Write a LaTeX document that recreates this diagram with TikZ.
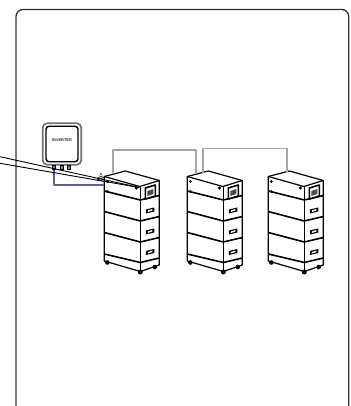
\documentclass[tikz,border=0pt]{standalone}
\usepackage{xcolor}
\usepackage{fontspec}
\setsansfont{Liberation Sans}
\usepackage{tikz}
\usetikzlibrary{positioning}
\definecolor{wiregray}{RGB}{165,165,165}
\definecolor{wirepurple}{RGB}{98,88,170}
\definecolor{framegray}{RGB}{50,50,50}

\begin{document}
\begin{tikzpicture}[
    x=1pt, y=-1pt,
    line join=round,
    inverterbox/.style={
        rectangle, rounded corners=4.5pt, draw=black!55, line width=1.7pt,
        minimum width=38.5pt, minimum height=41.5pt, inner sep=0pt
    },
    innerbox/.style={
        rectangle, rounded corners=3pt, draw=black, line width=1.4pt,
        minimum width=32pt, minimum height=35.5pt, inner sep=0pt
    },
    portbox/.style={
        rectangle, draw=black, fill=black!50, line width=0.9pt,
        minimum width=3pt, minimum height=4pt, inner sep=0pt
    },
    batteryline/.style={draw=black, line width=1.2pt},
    stackline/.style={draw=black, line width=1.6pt},
    gray wire/.style={draw=wiregray, line width=1.9pt},
    battery/.pic={
        % casing
        \draw[batteryline, fill=white] (0,0) -- (21,-5.5) -- (55,4) -- (55,88.5) -- (36,95) -- (0,84.5) -- cycle;
        \draw[batteryline] (0,0) -- (35.5,10) -- (55,4);
        \draw[stackline] (36,10) -- (36,95);
        \draw[stackline] (0,0) -- (0,84.5);
        % stacked modules
        \draw[stackline] (0,14.5) -- (36,23.5) -- (55,19);
        \draw[stackline] (0,35) -- (36,44.5) -- (55,40);
        \draw[stackline] (0,56) -- (36,65.5) -- (55,61);
        \draw[stackline] (0,77.5) -- (36,86) -- (55,81.5);
        % screen and handles
        \draw[black, line width=1.6pt, fill=white] (41,11.5) -- (51,8.5) -- (51,19.5) -- (41,22.5) -- cycle;
        \fill[black!70] (43,14.5) -- (49,12.5) -- (49,17.5) -- (43,19.5) -- cycle;
        \foreach \handley in {33,54,74.5} {
            \fill[black] (41.5,\handley) -- (50,\handley-2) -- (50,\handley+2) -- (41.5,\handley+4) -- cycle;
            \fill[white] (43.5,\handley+1) -- (48,\handley-0.5) -- (48,\handley+1) -- (43.5,\handley+2.5) -- cycle;
        }
        % feet and screws
        \fill (3,86) circle (2.3pt);
        \fill (36,95.5) circle (2.5pt);
        \fill (50.5,90.5) circle (2.3pt);
        \fill (3,5) circle (1.5pt);
        \fill (32,11.5) circle (1.8pt);
        \fill (3,15) circle (1.5pt);
        % ports for the wiring
        \coordinate (-left) at (0,8.5);
        \coordinate (-top a) at (8.3,-2.2);
        \coordinate (-top b) at (15.4,-4);
        \coordinate (-top c) at (18.4,-4.8);
        \coordinate (-ct) at (35,11);
    }
]
\useasboundingbox (0,0) rectangle (350,406);

% enclosure, open at the bottom of the page
\coordinate (FL) at (16,406);
\coordinate (FR) at (348.7,406);
\draw[draw=framegray, line width=1.3pt, rounded corners=7pt] (FL) -- (16,9.5) -- (348.7,9.5) -- (FR);

% cable entering from the left
\coordinate (C1) at (0,156.7);
\coordinate (C2) at (0,163.3);

% battery stacks
\pic (B1) at (104.3,176.5) {battery};
\pic (B2) at (187.3,176.5) {battery};
\pic (B3) at (268.3,176.5) {battery};

% inverter
\node[inverterbox] (INV) at (62,144) {};
\node[innerbox] (INVin) at (INV.center) {};
\node[font=\sffamily\bfseries\fontsize{3.9}{4}\selectfont, text=black!85] (INVtxt) at (62,140.5) {INVERTER};
\node[portbox] (P1) at (54,167.5) {};
\node[portbox] (P2) at (62,167.5) {};
\node[portbox] (P3) at (68.5,167.5) {};

% wifi mark
\coordinate (W) at (101,174);
\fill (W) circle (0.8pt);
\draw[line width=0.7pt] (W) ++(50:2.5) arc (50:130:2.5);
\draw[line width=0.7pt] (W) ++(50:4.5) arc (50:130:4.5);
\draw[line width=0.7pt] (W) ++(50:6.5) arc (50:130:6.5);

% wiring
\coordinate (BUSa) at (150,149.6);
\coordinate (BUSb) at (240,148.5);
\draw[gray wire] (B1-top a) |- (BUSa) -| (B2-top a);
\draw[gray wire] (B2-top b) |- (BUSb) -| (B3-top c);
\draw[wirepurple, line width=1.7pt] (P1.south) |- (B1-left);
\draw[black, line width=0.9pt] (C1) -- (B1-ct);
\draw[black, line width=0.9pt] (C2) -- (B1-ct);

\end{tikzpicture}
\end{document}
